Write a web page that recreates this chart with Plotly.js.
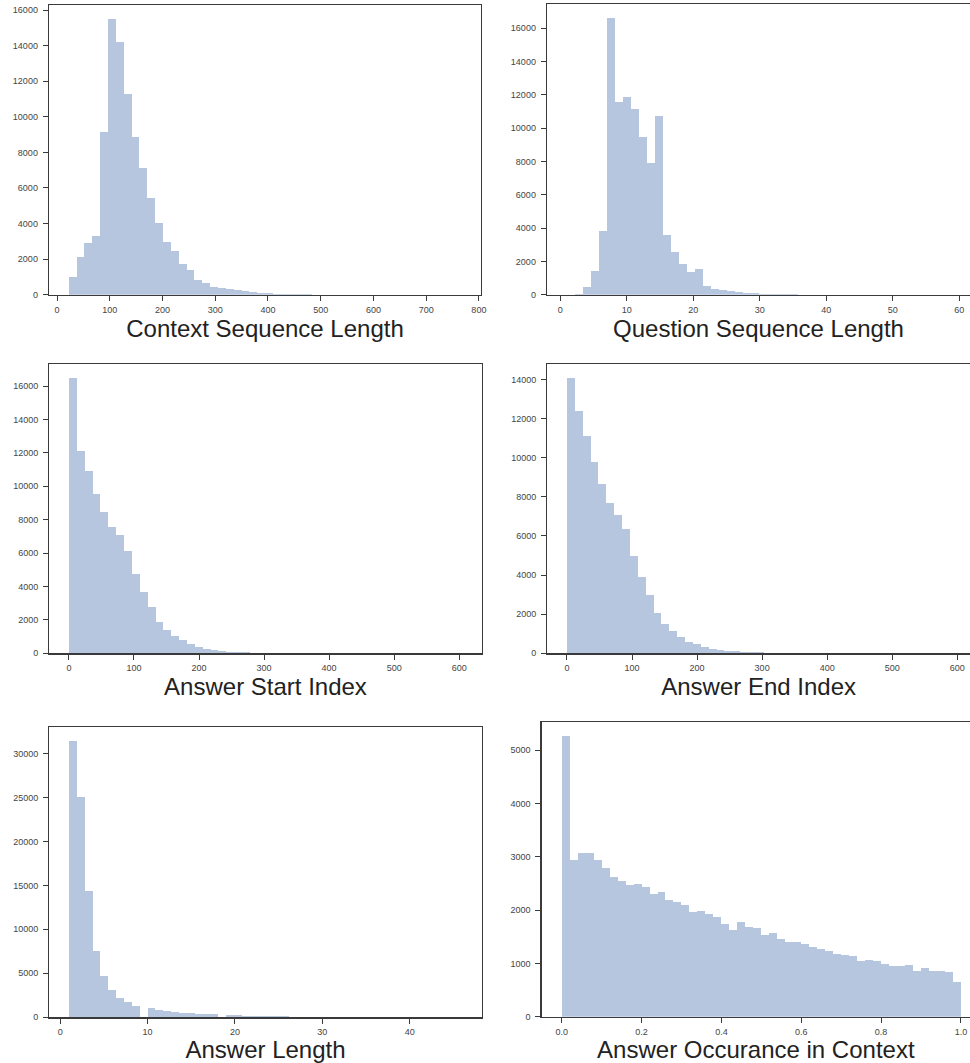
<!DOCTYPE html>
<html>
<head>
<meta charset="utf-8">
<script src="https://cdn.plot.ly/plotly-3.0.1.min.js"></script>
<style>
html,body{margin:0;padding:0;background:#fff;}
#chart{width:970px;height:1063px;}
</style>
</head>
<body>
<div id="chart"></div>
<script>
// ---- Data: histogram bin counts (50 bins each), bin start and bin width ----
const contextStart = 22, contextWidth = 14.9;
const contextCounts = [1000,2130,2885,3280,9140,15510,14220,11260,8880,7140,
  5450,4030,2940,2470,1705,1370,845,655,450,395,
  335,245,185,130,95,75,56,50,40,35,
  25,10,6,4,3,2,2,1,1,1,
  0,1,0,0,0,0,0,0,0,1];

const questionStart = 1, questionWidth = 1.2;
const questionCounts = [5,20,440,1440,3830,16620,11550,11890,11150,9460,
  7900,10730,3570,2590,1835,1375,1555,520,320,260,
  200,140,120,80,60,40,25,40,15,10,
  8,6,5,4,3,2,2,1,1,1,
  1,0,1,0,0,0,0,0,0,1];

const startIdxStart = 0, startIdxWidth = 12.1;
const startIdxCounts = [16500,12120,10930,9540,8490,7590,7060,6120,4750,3660,
  2780,1890,1390,1035,795,557,398,278,199,159,
  100,80,60,40,40,25,20,10,6,4,
  3,2,2,1,1,1,0,1,0,0,
  0,0,0,0,0,0,0,0,0,1];

const endIdxStart = 0, endIdxWidth = 12.1;
const endIdxCounts = [14085,12390,11100,9775,8655,7705,7060,6365,4990,3905,
  2970,2070,1475,1135,850,595,490,320,240,185,
  135,100,70,50,45,34,30,20,15,8,
  5,3,2,2,1,1,1,0,1,0,
  0,0,0,0,0,0,0,0,0,1];

const answerLenStart = 1, answerLenWidth = 0.9;
const answerLenCounts = [31400,25000,14340,7510,4680,3130,2225,1700,1245,0,
  1060,830,715,605,490,455,380,375,340,0,
  225,225,190,150,130,120,110,100,90,0,
  60,75,40,30,25,20,15,12,10,0,
  8,6,5,4,3,3,2,2,1,1];

const occurStart = 0, occurWidth = 0.02;
const occurCounts = [5262,2937,3081,3081,2937,2787,2619,2550,2469,2494,
  2431,2306,2331,2181,2156,2087,1956,1981,1919,1862,
  1737,1625,1775,1675,1662,1531,1569,1462,1406,1406,
  1369,1312,1262,1225,1181,1150,1131,1044,1069,1050,
  981,950,950,962,856,906,856,850,831,650];

const titles = ["Context Sequence Length","Question Sequence Length",
  "Answer Start Index","Answer End Index","Answer Length","Answer Occurance in Context"];

// ---- Build traces ----
const barColor = "rgb(182,198,223)";
function centers(start, width, counts){
  return counts.map((_, i) => start + (i + 0.5) * width);
}
const sets = [
  [contextStart, contextWidth, contextCounts],
  [questionStart, questionWidth, questionCounts],
  [startIdxStart, startIdxWidth, startIdxCounts],
  [endIdxStart, endIdxWidth, endIdxCounts],
  [answerLenStart, answerLenWidth, answerLenCounts],
  [occurStart, occurWidth, occurCounts]
];
const traces = sets.map((s, i) => ({
  type: "bar",
  x: centers(s[0], s[1], s[2]),
  y: s[2],
  width: s[1],
  marker: {color: barColor, line: {width: 0}},
  xaxis: i === 0 ? "x" : "x" + (i + 1),
  yaxis: i === 0 ? "y" : "y" + (i + 1),
  hoverinfo: "x+y",
  showlegend: false
}));

// ---- Layout ----
const W = 970, H = 1063;
// pixel boxes [left, right, top, bottom]
const boxes = [
  [49, 481, 5, 294.7],
  [547, 970, 4, 294.7],
  [49.3, 481.7, 364, 653.3],
  [547.3, 970, 364, 653.3],
  [49.3, 481.7, 727.3, 1017.3],
  [541.7, 970, 722.3, 1016.7]
];
const xRanges = [[-15.25, 804], [-2, 61.6], [-30.2, 634.6], [-30.2, 619.5], [-1.25, 48.25], [-0.05, 1.0226]];
const xDticks = [100, 10, 100, 100, 10, 0.2];
const yDticks = [2000, 2000, 2000, 2000, 5000, 1000];
const tickFont = {family: "Liberation Sans, Arial, sans-serif", size: 9, color: "#444"};
const lineCol = "#3a3a3a";

const layout = {
  width: W, height: H,
  margin: {l: 0, r: 0, t: 0, b: 0},
  paper_bgcolor: "#fff",
  plot_bgcolor: "#fff",
  bargap: 0,
  showlegend: false
};
boxes.forEach((b, i) => {
  const sfx = i === 0 ? "" : String(i + 1);
  const counts = sets[i][2];
  const ymax = Math.max(...counts) * 1.05;
  const rightCropped = b[1] >= 970;
  layout["xaxis" + sfx] = {
    domain: [b[0] / W, b[1] / W],
    anchor: "y" + sfx,
    range: xRanges[i],
    dtick: xDticks[i],
    tick0: 0,
    tickformat: i === 5 ? ".1f" : "d",
    showgrid: false, zeroline: false,
    showline: true, linecolor: lineCol, linewidth: 1.3, mirror: true,
    ticks: "outside", ticklen: 5, tickwidth: 1, tickcolor: lineCol,
    tickfont: tickFont,
    ticklabelstandoff: 1,
    title: {text: titles[i], font: {family: "Liberation Sans, Arial, sans-serif", size: 24, color: "#222"}, standoff: 2},
    automargin: false,
    fixedrange: true
  };
  layout["yaxis" + sfx] = {
    domain: [1 - b[3] / H, 1 - b[2] / H],
    anchor: "x" + sfx,
    range: [0, ymax],
    dtick: yDticks[i],
    tick0: 0,
    tickformat: "d",
    showgrid: false, zeroline: false,
    showline: true, linecolor: lineCol, linewidth: 1.3, mirror: !rightCropped,
    ticks: "outside", ticklen: 5, tickwidth: 1, tickcolor: lineCol,
    tickfont: tickFont,
    ticklabelstandoff: 3,
    automargin: false,
    fixedrange: true
  };
});

Plotly.newPlot("chart", traces, layout, {displayModeBar: false, staticPlot: true});
</script>
</body>
</html>
